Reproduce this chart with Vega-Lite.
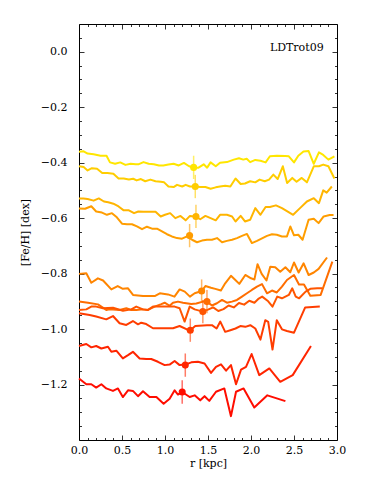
{
  "$schema": "https://vega.github.io/schema/vega-lite/v6.json",
  "width": 258,
  "height": 416,
  "autosize": {"type": "none"},
  "padding": {"left": 79, "top": 24, "right": 37, "bottom": 58},
  "background": "white",
  "config": {
    "font": "DejaVu Serif",
    "view": {"stroke": "black", "strokeWidth": 1},
    "axis": {"grid": false, "domain": false, "tickColor": "black", "labelColor": "black", "titleColor": "black", "labelFont": "DejaVu Serif", "titleFont": "DejaVu Serif", "labelFontSize": 11, "titleFontSize": 11, "titleFontWeight": "normal", "tickWidth": 0.8}
  },
  "datasets": {
    "lines": [
      {"s":1,"r":0,"v":-0.361},{"s":1,"r":0.054,"v":-0.359},{"s":1,"r":0.1,"v":-0.367},{"s":1,"r":0.17,"v":-0.37},{"s":1,"r":0.25,"v":-0.375},{"s":1,"r":0.32,"v":-0.375},{"s":1,"r":0.36,"v":-0.399},{"s":1,"r":0.42,"v":-0.404},{"s":1,"r":0.48,"v":-0.399},{"s":1,"r":0.54,"v":-0.408},{"s":1,"r":0.6,"v":-0.404},{"s":1,"r":0.66,"v":-0.406},{"s":1,"r":0.69,"v":-0.406},{"s":1,"r":0.75,"v":-0.398},{"s":1,"r":0.81,"v":-0.404},{"s":1,"r":0.87,"v":-0.406},{"s":1,"r":0.93,"v":-0.41},{"s":1,"r":0.98,"v":-0.41},{"s":1,"r":1.04,"v":-0.407},{"s":1,"r":1.1,"v":-0.404},{"s":1,"r":1.16,"v":-0.41},{"s":1,"r":1.22,"v":-0.401},{"s":1,"r":1.28,"v":-0.413},{"s":1,"r":1.33,"v":-0.417},{"s":1,"r":1.39,"v":-0.418},{"s":1,"r":1.45,"v":-0.406},{"s":1,"r":1.49,"v":-0.418},{"s":1,"r":1.53,"v":-0.399},{"s":1,"r":1.59,"v":-0.413},{"s":1,"r":1.64,"v":-0.4},{"s":1,"r":1.72,"v":-0.398},{"s":1,"r":1.8,"v":-0.389},{"s":1,"r":1.86,"v":-0.384},{"s":1,"r":1.91,"v":-0.389},{"s":1,"r":1.95,"v":-0.386},{"s":1,"r":1.99,"v":-0.398},{"s":1,"r":2.05,"v":-0.39},{"s":1,"r":2.11,"v":-0.393},{"s":1,"r":2.17,"v":-0.399},{"s":1,"r":2.22,"v":-0.377},{"s":1,"r":2.3,"v":-0.375},{"s":1,"r":2.4,"v":-0.376},{"s":1,"r":2.44,"v":-0.377},{"s":1,"r":2.5,"v":-0.399},{"s":1,"r":2.55,"v":-0.375},{"s":1,"r":2.61,"v":-0.36},{"s":1,"r":2.67,"v":-0.358},{"s":1,"r":2.73,"v":-0.404},{"s":1,"r":2.79,"v":-0.363},{"s":1,"r":2.84,"v":-0.372},{"s":1,"r":2.9,"v":-0.389},{"s":1,"r":2.97,"v":-0.377},
      {"s":2,"r":0,"v":-0.413},{"s":2,"r":0.054,"v":-0.416},{"s":2,"r":0.1,"v":-0.428},{"s":2,"r":0.15,"v":-0.42},{"s":2,"r":0.21,"v":-0.422},{"s":2,"r":0.27,"v":-0.437},{"s":2,"r":0.33,"v":-0.437},{"s":2,"r":0.4,"v":-0.44},{"s":2,"r":0.46,"v":-0.457},{"s":2,"r":0.52,"v":-0.457},{"s":2,"r":0.58,"v":-0.461},{"s":2,"r":0.63,"v":-0.458},{"s":2,"r":0.67,"v":-0.464},{"s":2,"r":0.72,"v":-0.459},{"s":2,"r":0.77,"v":-0.467},{"s":2,"r":0.83,"v":-0.461},{"s":2,"r":0.89,"v":-0.467},{"s":2,"r":0.95,"v":-0.469},{"s":2,"r":0.99,"v":-0.471},{"s":2,"r":1.04,"v":-0.486},{"s":2,"r":1.1,"v":-0.488},{"s":2,"r":1.14,"v":-0.48},{"s":2,"r":1.2,"v":-0.486},{"s":2,"r":1.24,"v":-0.48},{"s":2,"r":1.29,"v":-0.486},{"s":2,"r":1.35,"v":-0.486},{"s":2,"r":1.41,"v":-0.488},{"s":2,"r":1.47,"v":-0.488},{"s":2,"r":1.53,"v":-0.494},{"s":2,"r":1.59,"v":-0.489},{"s":2,"r":1.64,"v":-0.486},{"s":2,"r":1.7,"v":-0.483},{"s":2,"r":1.76,"v":-0.486},{"s":2,"r":1.82,"v":-0.457},{"s":2,"r":1.88,"v":-0.477},{"s":2,"r":1.93,"v":-0.475},{"s":2,"r":1.99,"v":-0.467},{"s":2,"r":2.05,"v":-0.471},{"s":2,"r":2.1,"v":-0.461},{"s":2,"r":2.16,"v":-0.467},{"s":2,"r":2.21,"v":-0.461},{"s":2,"r":2.26,"v":-0.443},{"s":2,"r":2.31,"v":-0.459},{"s":2,"r":2.37,"v":-0.413},{"s":2,"r":2.42,"v":-0.473},{"s":2,"r":2.48,"v":-0.455},{"s":2,"r":2.53,"v":-0.469},{"s":2,"r":2.59,"v":-0.455},{"s":2,"r":2.65,"v":-0.471},{"s":2,"r":2.73,"v":-0.413},{"s":2,"r":2.79,"v":-0.413},{"s":2,"r":2.84,"v":-0.407},{"s":2,"r":2.9,"v":-0.413},{"s":2,"r":2.97,"v":-0.457},
      {"s":3,"r":0,"v":-0.529},{"s":3,"r":0.05,"v":-0.529},{"s":3,"r":0.1,"v":-0.531},{"s":3,"r":0.17,"v":-0.537},{"s":3,"r":0.23,"v":-0.529},{"s":3,"r":0.29,"v":-0.54},{"s":3,"r":0.34,"v":-0.543},{"s":3,"r":0.4,"v":-0.548},{"s":3,"r":0.46,"v":-0.558},{"s":3,"r":0.52,"v":-0.572},{"s":3,"r":0.58,"v":-0.572},{"s":3,"r":0.64,"v":-0.582},{"s":3,"r":0.69,"v":-0.576},{"s":3,"r":0.75,"v":-0.577},{"s":3,"r":0.81,"v":-0.577},{"s":3,"r":0.89,"v":-0.577},{"s":3,"r":0.95,"v":-0.594},{"s":3,"r":1.0,"v":-0.588},{"s":3,"r":1.06,"v":-0.582},{"s":3,"r":1.12,"v":-0.6},{"s":3,"r":1.18,"v":-0.592},{"s":3,"r":1.24,"v":-0.608},{"s":3,"r":1.29,"v":-0.592},{"s":3,"r":1.36,"v":-0.595},{"s":3,"r":1.41,"v":-0.604},{"s":3,"r":1.47,"v":-0.592},{"s":3,"r":1.53,"v":-0.6},{"s":3,"r":1.59,"v":-0.608},{"s":3,"r":1.64,"v":-0.588},{"s":3,"r":1.72,"v":-0.588},{"s":3,"r":1.78,"v":-0.594},{"s":3,"r":1.82,"v":-0.612},{"s":3,"r":1.88,"v":-0.592},{"s":3,"r":1.93,"v":-0.612},{"s":3,"r":1.99,"v":-0.606},{"s":3,"r":2.05,"v":-0.564},{"s":3,"r":2.11,"v":-0.588},{"s":3,"r":2.17,"v":-0.56},{"s":3,"r":2.22,"v":-0.56},{"s":3,"r":2.29,"v":-0.554},{"s":3,"r":2.36,"v":-0.564},{"s":3,"r":2.49,"v":-0.588},{"s":3,"r":2.57,"v":-0.564},{"s":3,"r":2.65,"v":-0.54},{"s":3,"r":2.73,"v":-0.528},{"s":3,"r":2.79,"v":-0.546},{"s":3,"r":2.84,"v":-0.5},{"s":3,"r":2.88,"v":-0.508},{"s":3,"r":2.94,"v":-0.486},
      {"s":4,"r":0,"v":-0.565},{"s":4,"r":0.07,"v":-0.566},{"s":4,"r":0.143,"v":-0.557},{"s":4,"r":0.2,"v":-0.576},{"s":4,"r":0.267,"v":-0.58},{"s":4,"r":0.325,"v":-0.588},{"s":4,"r":0.383,"v":-0.582},{"s":4,"r":0.44,"v":-0.597},{"s":4,"r":0.5,"v":-0.62},{"s":4,"r":0.558,"v":-0.622},{"s":4,"r":0.616,"v":-0.622},{"s":4,"r":0.674,"v":-0.63},{"s":4,"r":0.733,"v":-0.64},{"s":4,"r":0.79,"v":-0.631},{"s":4,"r":0.849,"v":-0.638},{"s":4,"r":0.907,"v":-0.638},{"s":4,"r":0.965,"v":-0.648},{"s":4,"r":1.023,"v":-0.658},{"s":4,"r":1.08,"v":-0.666},{"s":4,"r":1.14,"v":-0.672},{"s":4,"r":1.198,"v":-0.674},{"s":4,"r":1.256,"v":-0.666},{"s":4,"r":1.314,"v":-0.678},{"s":4,"r":1.372,"v":-0.687},{"s":4,"r":1.43,"v":-0.681},{"s":4,"r":1.488,"v":-0.678},{"s":4,"r":1.546,"v":-0.678},{"s":4,"r":1.605,"v":-0.672},{"s":4,"r":1.663,"v":-0.687},{"s":4,"r":1.72,"v":-0.682},{"s":4,"r":1.78,"v":-0.678},{"s":4,"r":1.837,"v":-0.672},{"s":4,"r":1.895,"v":-0.664},{"s":4,"r":1.953,"v":-0.657},{"s":4,"r":2.01,"v":-0.69},{"s":4,"r":2.07,"v":-0.682},{"s":4,"r":2.128,"v":-0.673},{"s":4,"r":2.186,"v":-0.664},{"s":4,"r":2.244,"v":-0.658},{"s":4,"r":2.3,"v":-0.66},{"s":4,"r":2.36,"v":-0.666},{"s":4,"r":2.418,"v":-0.666},{"s":4,"r":2.457,"v":-0.63},{"s":4,"r":2.5,"v":-0.662},{"s":4,"r":2.55,"v":-0.66},{"s":4,"r":2.6,"v":-0.678},{"s":4,"r":2.67,"v":-0.606},{"s":4,"r":2.73,"v":-0.602},{"s":4,"r":2.786,"v":-0.618},{"s":4,"r":2.845,"v":-0.594},{"s":4,"r":2.915,"v":-0.589},{"s":4,"r":2.96,"v":-0.589},
      {"s":5,"r":0,"v":-0.801},{"s":5,"r":0.085,"v":-0.799},{"s":5,"r":0.143,"v":-0.833},{"s":5,"r":0.22,"v":-0.817},{"s":5,"r":0.28,"v":-0.825},{"s":5,"r":0.376,"v":-0.857},{"s":5,"r":0.45,"v":-0.845},{"s":5,"r":0.51,"v":-0.855},{"s":5,"r":0.57,"v":-0.853},{"s":5,"r":0.628,"v":-0.877},{"s":5,"r":0.744,"v":-0.881},{"s":5,"r":0.88,"v":-0.881},{"s":5,"r":0.94,"v":-0.871},{"s":5,"r":1.035,"v":-0.875},{"s":5,"r":1.11,"v":-0.883},{"s":5,"r":1.17,"v":-0.857},{"s":5,"r":1.23,"v":-0.865},{"s":5,"r":1.29,"v":-0.883},{"s":5,"r":1.345,"v":-0.871},{"s":5,"r":1.426,"v":-0.863},{"s":5,"r":1.47,"v":-0.845},{"s":5,"r":1.535,"v":-0.851},{"s":5,"r":1.585,"v":-0.855},{"s":5,"r":1.65,"v":-0.861},{"s":5,"r":1.7,"v":-0.835},{"s":5,"r":1.767,"v":-0.808},{"s":5,"r":1.818,"v":-0.823},{"s":5,"r":1.864,"v":-0.837},{"s":5,"r":1.934,"v":-0.805},{"s":5,"r":2.0,"v":-0.817},{"s":5,"r":2.04,"v":-0.821},{"s":5,"r":2.076,"v":-0.766},{"s":5,"r":2.124,"v":-0.801},{"s":5,"r":2.18,"v":-0.825},{"s":5,"r":2.224,"v":-0.775},{"s":5,"r":2.282,"v":-0.777},{"s":5,"r":2.34,"v":-0.793},{"s":5,"r":2.4,"v":-0.777},{"s":5,"r":2.457,"v":-0.795},{"s":5,"r":2.5,"v":-0.76},{"s":5,"r":2.554,"v":-0.796},{"s":5,"r":2.612,"v":-0.763},{"s":5,"r":2.67,"v":-0.805},{"s":5,"r":2.73,"v":-0.796},{"s":5,"r":2.786,"v":-0.783},{"s":5,"r":2.884,"v":-0.742},
      {"s":6,"r":0,"v":-0.901},{"s":6,"r":0.104,"v":-0.905},{"s":6,"r":0.22,"v":-0.911},{"s":6,"r":0.317,"v":-0.931},{"s":6,"r":0.356,"v":-0.929},{"s":6,"r":0.472,"v":-0.931},{"s":6,"r":0.55,"v":-0.925},{"s":6,"r":0.608,"v":-0.931},{"s":6,"r":0.666,"v":-0.931},{"s":6,"r":0.744,"v":-0.929},{"s":6,"r":0.802,"v":-0.931},{"s":6,"r":0.879,"v":-0.919},{"s":6,"r":0.957,"v":-0.91},{"s":6,"r":0.996,"v":-0.905},{"s":6,"r":1.054,"v":-0.916},{"s":6,"r":1.093,"v":-0.905},{"s":6,"r":1.151,"v":-0.901},{"s":6,"r":1.209,"v":-0.905},{"s":6,"r":1.306,"v":-0.91},{"s":6,"r":1.364,"v":-0.908},{"s":6,"r":1.441,"v":-0.901},{"s":6,"r":1.488,"v":-0.901},{"s":6,"r":1.546,"v":-0.915},{"s":6,"r":1.604,"v":-0.907},{"s":6,"r":1.663,"v":-0.895},{"s":6,"r":1.72,"v":-0.905},{"s":6,"r":1.778,"v":-0.901},{"s":6,"r":1.837,"v":-0.895},{"s":6,"r":1.895,"v":-0.883},{"s":6,"r":1.953,"v":-0.871},{"s":6,"r":2.01,"v":-0.859},{"s":6,"r":2.07,"v":-0.847},{"s":6,"r":2.128,"v":-0.838},{"s":6,"r":2.186,"v":-0.871},{"s":6,"r":2.244,"v":-0.861},{"s":6,"r":2.3,"v":-0.868},{"s":6,"r":2.36,"v":-0.847},{"s":6,"r":2.418,"v":-0.823},{"s":6,"r":2.5,"v":-0.805},{"s":6,"r":2.558,"v":-0.839},{"s":6,"r":2.616,"v":-0.839},{"s":6,"r":2.69,"v":-0.88},{"s":6,"r":2.81,"v":-0.877},{"s":6,"r":2.946,"v":-0.757},
      {"s":7,"r":0,"v":-0.931},{"s":7,"r":0.085,"v":-0.929},{"s":7,"r":0.143,"v":-0.919},{"s":7,"r":0.2,"v":-0.919},{"s":7,"r":0.279,"v":-0.925},{"s":7,"r":0.395,"v":-0.923},{"s":7,"r":0.511,"v":-0.934},{"s":7,"r":0.608,"v":-0.929},{"s":7,"r":0.666,"v":-0.919},{"s":7,"r":0.744,"v":-0.929},{"s":7,"r":0.802,"v":-0.931},{"s":7,"r":0.86,"v":-0.919},{"s":7,"r":0.937,"v":-0.919},{"s":7,"r":1.054,"v":-0.919},{"s":7,"r":1.112,"v":-0.919},{"s":7,"r":1.17,"v":-0.925},{"s":7,"r":1.228,"v":-0.973},{"s":7,"r":1.287,"v":-0.919},{"s":7,"r":1.345,"v":-0.929},{"s":7,"r":1.44,"v":-0.937},{"s":7,"r":1.5,"v":-0.93},{"s":7,"r":1.56,"v":-0.922},{"s":7,"r":1.62,"v":-0.935},{"s":7,"r":1.68,"v":-0.928},{"s":7,"r":1.74,"v":-0.915},{"s":7,"r":1.8,"v":-0.922},{"s":7,"r":1.86,"v":-0.906},{"s":7,"r":1.92,"v":-0.912},{"s":7,"r":1.98,"v":-0.898},{"s":7,"r":2.04,"v":-0.905},{"s":7,"r":2.09,"v":-0.89},{"s":7,"r":2.13,"v":-0.883},{"s":7,"r":2.2,"v":-0.9},{"s":7,"r":2.25,"v":-0.919},{"s":7,"r":2.305,"v":-0.883},{"s":7,"r":2.36,"v":-0.889},{"s":7,"r":2.44,"v":-0.877},{"s":7,"r":2.48,"v":-0.853},{"s":7,"r":2.52,"v":-0.883},{"s":7,"r":2.56,"v":-0.889},{"s":7,"r":2.635,"v":-0.865},{"s":7,"r":2.69,"v":-0.855},{"s":7,"r":2.77,"v":-0.853},{"s":7,"r":2.83,"v":-0.853},
      {"s":8,"r":0,"v":-0.943},{"s":8,"r":0.124,"v":-0.949},{"s":8,"r":0.2,"v":-0.955},{"s":8,"r":0.317,"v":-0.965},{"s":8,"r":0.395,"v":-0.953},{"s":8,"r":0.472,"v":-0.979},{"s":8,"r":0.55,"v":-0.985},{"s":8,"r":0.627,"v":-0.971},{"s":8,"r":0.686,"v":-0.983},{"s":8,"r":0.724,"v":-0.977},{"s":8,"r":0.782,"v":-0.982},{"s":8,"r":0.86,"v":-0.997},{"s":8,"r":0.976,"v":-0.997},{"s":8,"r":1.093,"v":-0.997},{"s":8,"r":1.17,"v":-0.989},{"s":8,"r":1.267,"v":-1.003},{"s":8,"r":1.294,"v":-1.004},{"s":8,"r":1.352,"v":-0.989},{"s":8,"r":1.488,"v":-0.986},{"s":8,"r":1.546,"v":-0.986},{"s":8,"r":1.6,"v":-0.998},{"s":8,"r":1.643,"v":-0.973},{"s":8,"r":1.7,"v":-1.01},{"s":8,"r":1.76,"v":-1.004},{"s":8,"r":1.82,"v":-0.998},{"s":8,"r":1.876,"v":-0.989},{"s":8,"r":1.934,"v":-0.992},{"s":8,"r":1.992,"v":-0.986},{"s":8,"r":2.05,"v":-0.998},{"s":8,"r":2.11,"v":-1.038},{"s":8,"r":2.166,"v":-0.968},{"s":8,"r":2.2,"v":-0.974},{"s":8,"r":2.25,"v":-1.074},{"s":8,"r":2.3,"v":-0.968},{"s":8,"r":2.36,"v":-1.001},{"s":8,"r":2.418,"v":-1.007},{"s":8,"r":2.5,"v":-1.013},{"s":8,"r":2.63,"v":-0.922},{"s":8,"r":2.8,"v":-0.919},
      {"s":9,"r":0,"v":-1.061},{"s":9,"r":0.085,"v":-1.054},{"s":9,"r":0.143,"v":-1.066},{"s":9,"r":0.2,"v":-1.061},{"s":9,"r":0.26,"v":-1.07},{"s":9,"r":0.337,"v":-1.064},{"s":9,"r":0.376,"v":-1.082},{"s":9,"r":0.434,"v":-1.078},{"s":9,"r":0.51,"v":-1.106},{"s":9,"r":0.57,"v":-1.094},{"s":9,"r":0.627,"v":-1.082},{"s":9,"r":0.705,"v":-1.106},{"s":9,"r":0.782,"v":-1.108},{"s":9,"r":0.84,"v":-1.108},{"s":9,"r":0.918,"v":-1.118},{"s":9,"r":0.996,"v":-1.13},{"s":9,"r":1.054,"v":-1.128},{"s":9,"r":1.112,"v":-1.115},{"s":9,"r":1.17,"v":-1.13},{"s":9,"r":1.236,"v":-1.128},{"s":9,"r":1.306,"v":-1.12},{"s":9,"r":1.383,"v":-1.118},{"s":9,"r":1.46,"v":-1.124},{"s":9,"r":1.535,"v":-1.158},{"s":9,"r":1.593,"v":-1.136},{"s":9,"r":1.651,"v":-1.127},{"s":9,"r":1.71,"v":-1.15},{"s":9,"r":1.767,"v":-1.13},{"s":9,"r":1.826,"v":-1.199},{"s":9,"r":1.884,"v":-1.146},{"s":9,"r":1.942,"v":-1.136},{"s":9,"r":2.007,"v":-1.09},{"s":9,"r":2.096,"v":-1.166},{"s":9,"r":2.213,"v":-1.142},{"s":9,"r":2.34,"v":-1.19},{"s":9,"r":2.485,"v":-1.166},{"s":9,"r":2.697,"v":-1.061},
      {"s":10,"r":0,"v":-1.178},{"s":10,"r":0.085,"v":-1.199},{"s":10,"r":0.143,"v":-1.199},{"s":10,"r":0.2,"v":-1.211},{"s":10,"r":0.26,"v":-1.199},{"s":10,"r":0.317,"v":-1.214},{"s":10,"r":0.395,"v":-1.223},{"s":10,"r":0.453,"v":-1.214},{"s":10,"r":0.51,"v":-1.245},{"s":10,"r":0.57,"v":-1.221},{"s":10,"r":0.627,"v":-1.223},{"s":10,"r":0.686,"v":-1.242},{"s":10,"r":0.744,"v":-1.224},{"s":10,"r":0.821,"v":-1.245},{"s":10,"r":0.9,"v":-1.245},{"s":10,"r":0.984,"v":-1.269},{"s":10,"r":1.054,"v":-1.251},{"s":10,"r":1.112,"v":-1.221},{"s":10,"r":1.151,"v":-1.236},{"s":10,"r":1.2,"v":-1.227},{"s":10,"r":1.287,"v":-1.245},{"s":10,"r":1.345,"v":-1.239},{"s":10,"r":1.41,"v":-1.257},{"s":10,"r":1.46,"v":-1.242},{"s":10,"r":1.515,"v":-1.259},{"s":10,"r":1.593,"v":-1.226},{"s":10,"r":1.69,"v":-1.214},{"s":10,"r":1.767,"v":-1.314},{"s":10,"r":1.826,"v":-1.226},{"s":10,"r":1.914,"v":-1.214},{"s":10,"r":2.038,"v":-1.283},{"s":10,"r":2.19,"v":-1.239},{"s":10,"r":2.4,"v":-1.26}
    ],
    "pts": [
      {"s":1,"r":1.333,"v":-0.417,"lo":-0.459,"hi":-0.375},
      {"s":2,"r":1.352,"v":-0.486,"lo":-0.528,"hi":-0.444},
      {"s":3,"r":1.36,"v":-0.594,"lo":-0.636,"hi":-0.552},
      {"s":4,"r":1.286,"v":-0.663,"lo":-0.705,"hi":-0.621},
      {"s":5,"r":1.426,"v":-0.863,"lo":-0.905,"hi":-0.821},
      {"s":6,"r":1.488,"v":-0.901,"lo":-0.943,"hi":-0.859},
      {"s":7,"r":1.44,"v":-0.937,"lo":-0.979,"hi":-0.895},
      {"s":8,"r":1.294,"v":-1.004,"lo":-1.046,"hi":-0.962},
      {"s":9,"r":1.236,"v":-1.13,"lo":-1.172,"hi":-1.088},
      {"s":10,"r":1.2,"v":-1.227,"lo":-1.269,"hi":-1.185}
    ]
  },
  "resolve": {"axis": {"x": "independent", "y": "independent"}},
  "layer": [
    {
      "data": {"name": "lines"},
      "mark": {"type": "line", "strokeWidth": 2, "strokeJoin": "round"},
      "encoding": {
        "x": {"field": "r", "type": "quantitative", "scale": {"domain": [0, 3], "nice": false, "zero": false},
              "axis": {"orient": "bottom", "title": "r [kpc]", "values": [0, 0.5, 1, 1.5, 2, 2.5, 3], "format": ".1f", "tickSize": -5, "labelPadding": 9, "titlePadding": 2, "labelFlush": false}},
        "y": {"field": "v", "type": "quantitative", "scale": {"domain": [-1.4, 0.1], "nice": false, "zero": false},
              "axis": {"orient": "left", "title": "[Fe/H] [dex]", "values": [-1.2, -1.0, -0.8, -0.6, -0.4, -0.2, 0.0], "format": ".1f", "tickSize": -5, "labelPadding": 17, "titlePadding": 10, "labelFlush": false}},
        "color": {"field": "s", "type": "nominal", "legend": null,
                  "scale": {"domain": [1,2,3,4,5,6,7,8,9,10], "range": ["#FFE600","#FFCD00","#FFB500","#FF9D00","#FF8500","#FF6D00","#FF5500","#FF3D00","#FF2500","#FF0D00"]}},
        "detail": {"field": "s"}
      }
    },
    {
      "data": {"name": "pts"},
      "mark": {"type": "rule", "strokeWidth": 1.5, "opacity": 0.6},
      "encoding": {
        "x": {"field": "r", "type": "quantitative",
              "axis": {"orient": "top", "title": null, "labels": false, "values": [0, 0.5, 1, 1.5, 2, 2.5, 3], "tickSize": -5}},
        "y": {"field": "lo", "type": "quantitative",
              "axis": {"orient": "right", "title": null, "labels": false, "values": [-1.2, -1.0, -0.8, -0.6, -0.4, -0.2, 0.0], "tickSize": -5}},
        "y2": {"field": "hi"},
        "color": {"field": "s", "type": "nominal", "legend": null}
      }
    },
    {
      "data": {"name": "pts"},
      "mark": {"type": "circle", "size": 50, "opacity": 1},
      "encoding": {
        "x": {"field": "r", "type": "quantitative",
              "axis": {"orient": "bottom", "title": null, "labels": false, "values": [0.1,0.2,0.3,0.4,0.6,0.7,0.8,0.9,1.1,1.2,1.3,1.4,1.6,1.7,1.8,1.9,2.1,2.2,2.3,2.4,2.6,2.7,2.8,2.9], "tickSize": -2.5}},
        "y": {"field": "v", "type": "quantitative",
              "axis": {"orient": "left", "title": null, "labels": false, "values": [-1.35,-1.3,-1.25,-1.15,-1.1,-1.05,-0.95,-0.9,-0.85,-0.75,-0.7,-0.65,-0.55,-0.5,-0.45,-0.35,-0.3,-0.25,-0.15,-0.1,-0.05,0.05], "tickSize": -2.5}},
        "color": {"field": "s", "type": "nominal", "legend": null}
      }
    },
    {
      "data": {"values": [{"r": 2.845, "v": 0.015, "label": "LDTrot09"}]},
      "mark": {"type": "text", "align": "right", "baseline": "middle", "font": "DejaVu Serif", "fontSize": 11, "color": "black"},
      "encoding": {
        "x": {"field": "r", "type": "quantitative",
              "axis": {"orient": "top", "title": null, "labels": false, "values": [0.1,0.2,0.3,0.4,0.6,0.7,0.8,0.9,1.1,1.2,1.3,1.4,1.6,1.7,1.8,1.9,2.1,2.2,2.3,2.4,2.6,2.7,2.8,2.9], "tickSize": -2.5}},
        "y": {"field": "v", "type": "quantitative",
              "axis": {"orient": "right", "title": null, "labels": false, "values": [-1.35,-1.3,-1.25,-1.15,-1.1,-1.05,-0.95,-0.9,-0.85,-0.75,-0.7,-0.65,-0.55,-0.5,-0.45,-0.35,-0.3,-0.25,-0.15,-0.1,-0.05,0.05], "tickSize": -2.5}},
        "text": {"field": "label"}
      }
    }
  ]
}
